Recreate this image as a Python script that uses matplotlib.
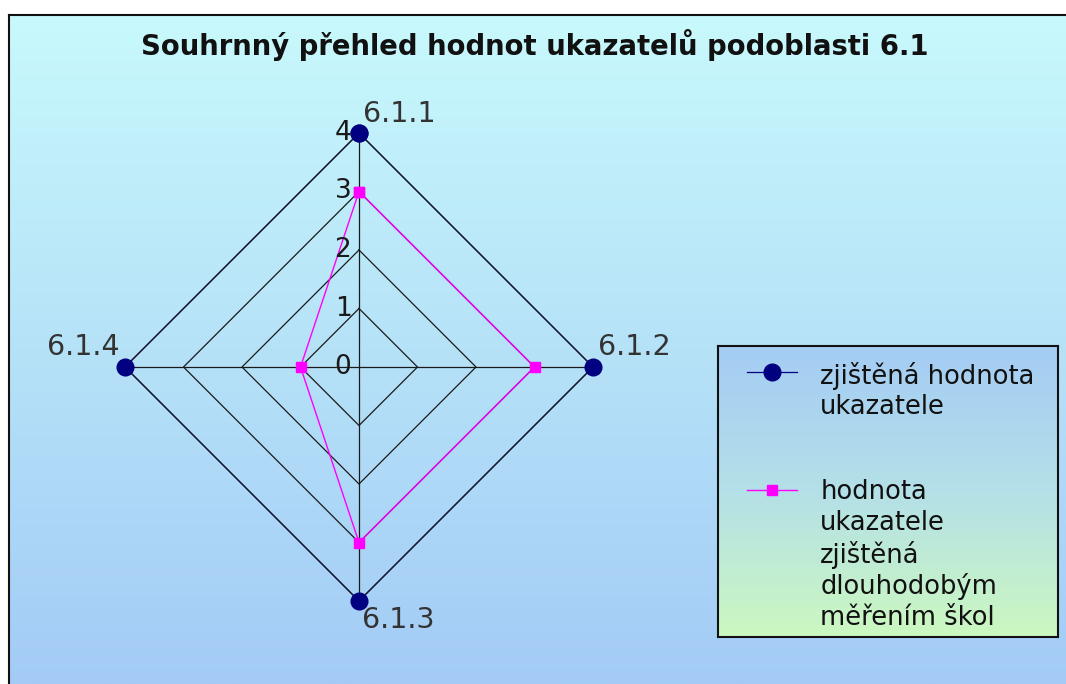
import numpy as np
import matplotlib
matplotlib.use('Agg')
import matplotlib.pyplot as plt
from matplotlib.colors import LinearSegmentedColormap

# data
categories = ['6.1.1', '6.1.2', '6.1.3', '6.1.4']
zjistena = [4, 4, 4, 4]
dlouhodobe = [3, 3, 3, 1]
ring_levels = [1, 2, 3, 4]
tick_labels = ['0', '1', '2', '3', '4']
series_names = ['zjištěná hodnota\nukazatele',
                'hodnota\nukazatele\nzjištěná\ndlouhodobým\nměřením škol']
title = 'Souhrnný přehled hodnot ukazatelů podoblasti 6.1'

W, H = 1066, 684
fig = plt.figure(figsize=(W / 100, H / 100), dpi=100, facecolor='white')

# background with gradient and black frame on left/top
bg = fig.add_axes([9 / W, 0, 1 - 9 / W, (H - 15) / H])
bg_cmap = LinearSegmentedColormap.from_list('bg', ['#c8f9fc', '#b6e2f8', '#a3cbf6'])
bg.imshow(np.linspace(0, 1, 256).reshape(-1, 1), aspect='auto', cmap=bg_cmap,
          extent=[0, 1, 0, 1])
bg.set_xticks([])
bg.set_yticks([])
for s in ['right', 'bottom']:
    bg.spines[s].set_visible(False)
for s in ['left', 'top']:
    bg.spines[s].set_linewidth(1.5)
    bg.spines[s].set_color('#111111')

fig.text(535 / W, 1 - 45 / H, title, ha='center', va='center',
         fontsize=19.8, fontweight='bold', color='#111111')

# radar
cx, cy, R = 359, 367, 234
ax = fig.add_axes([(cx - R) / W, (H - cy - R) / H, 2 * R / W, 2 * R / H],
                  projection='polar')
ax.set_theta_zero_location('N')
ax.set_theta_direction(-1)
ax.set_ylim(0, 4)
ax.grid(False)
ax.spines['polar'].set_visible(False)
ax.set_xticks([])
ax.set_yticks([])
ax.patch.set_alpha(0)

angles = np.arange(len(categories)) * 2 * np.pi / len(categories)
closed = np.append(angles, angles[0])

for r in ring_levels:
    ax.plot(closed, [r] * len(closed), color='#1a1a1a', lw=0.9, zorder=2)
for a in angles:
    ax.plot([a, a], [0, ring_levels[-1]], color='#1a1a1a', lw=0.9, zorder=2)

z_closed = np.append(zjistena, zjistena[0])
d_closed = np.append(dlouhodobe, dlouhodobe[0])
l1_line, = ax.plot(closed, z_closed, color='#000080', lw=0.9, zorder=1)
l1_mark, = ax.plot(closed, z_closed, color='#000080', ls='none', marker='o',
                   markersize=12, clip_on=False, zorder=3)
l2, = ax.plot(closed, d_closed, color='#ff00ff', lw=1.0,
              marker='s', markersize=6.5, clip_on=False, zorder=4)

for i, t in enumerate(tick_labels):
    ax.annotate(t, xy=(0, i), xytext=(-16, 0), textcoords='offset pixels',
                ha='center', va='center', fontsize=19, color='#1a1a1a',
                annotation_clip=False, zorder=5)

offsets = [(4, 11, 'left'), (5, 12, 'left'), (3, -27, 'left'), (-5, 12, 'right')]
for a, c, (dx, dy, ha) in zip(angles, categories, offsets):
    ax.annotate(c, xy=(a, 4), xytext=(dx, dy), textcoords='offset pixels',
                ha=ha, va='baseline', fontsize=20.5, color='#333333',
                annotation_clip=False)

# legend box with gradient
lx0, ly0, lx1, ly1 = 718, 346, 1058, 637
lg = fig.add_axes([lx0 / W, 1 - ly1 / H, (lx1 - lx0) / W, (ly1 - ly0) / H])
lg_cmap = LinearSegmentedColormap.from_list('lg', ['#a4ccf4', '#b4e0e8', '#ccf8c0'])
lg.imshow(np.linspace(0, 1, 256).reshape(-1, 1), aspect='auto', cmap=lg_cmap,
          extent=[0, 1, 0, 1])
lg.set_xticks([])
lg.set_yticks([])
for s in lg.spines.values():
    s.set_linewidth(1.5)
    s.set_color('#111111')

leg = fig.legend([(l1_line, l1_mark), l2], series_names, loc='upper left',
                 bbox_to_anchor=(747 / W, 1 - 362 / H),
                 fontsize=18.5, frameon=False, handlelength=1.95,
                 handleheight=1.0, handletextpad=0.9, labelspacing=2.3,
                 borderpad=0, borderaxespad=0)
leg.set_zorder(10)
for t in leg.get_texts():
    t.set_linespacing(1.22)
    t.set_color('#111111')
for col in leg._legend_handle_box.get_children():
    for row in col.get_children():
        row.align = 'top'

fig.savefig('out.png', dpi=100, facecolor='white')
